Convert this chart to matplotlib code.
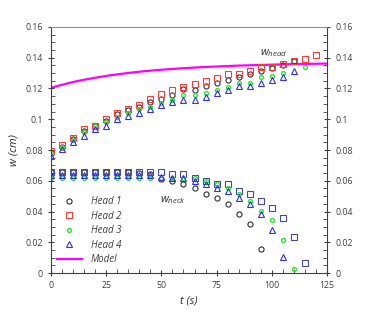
import matplotlib
matplotlib.use("Agg")
import matplotlib.pyplot as plt
from matplotlib.ticker import MultipleLocator, FuncFormatter

plt.rcParams['font.family'] = ['Open Sans', 'DejaVu Sans']
plt.rcParams['mathtext.fontset'] = 'custom'
plt.rcParams['mathtext.it'] = 'Open Sans:italic'
plt.rcParams['mathtext.rm'] = 'Open Sans'

# head width w_head (cm)
t_h1 = [0, 5, 10, 15, 20, 25, 30, 35, 40, 45, 50, 55, 60, 65, 70, 75, 80, 85, 90, 95, 100, 105, 110]
head1 = [0.0779, 0.0818, 0.0870, 0.0922, 0.0954, 0.0986, 0.1032, 0.1058, 0.1079, 0.1112, 0.1134, 0.1155,
         0.1199, 0.1192, 0.1214, 0.1233, 0.1253, 0.1274, 0.1292, 0.1317, 0.1335, 0.1356, 0.1378]
t_h2 = [0, 5, 10, 15, 20, 25, 30, 35, 40, 45, 50, 55, 60, 65, 70, 75, 80, 85, 90, 95, 100, 105, 110, 115, 120]
head2 = [0.0792, 0.0831, 0.0878, 0.0934, 0.0959, 0.0999, 0.1043, 0.1069, 0.1090, 0.1134, 0.1166, 0.1188,
         0.1209, 0.1231, 0.1248, 0.1270, 0.1292, 0.1292, 0.1317, 0.1339, 0.1339, 0.1361, 0.1382, 0.1393, 0.1421]
t_h3 = [0, 5, 10, 15, 20, 25, 30, 35, 40, 45, 50, 55, 60, 65, 70, 75, 80, 85, 90, 95, 100, 105, 115]
head3 = [0.0779, 0.0820, 0.0868, 0.0917, 0.0956, 0.0982, 0.1012, 0.1043, 0.1064, 0.1079, 0.1108, 0.1127,
         0.1155, 0.1155, 0.1168, 0.1192, 0.1209, 0.1238, 0.1238, 0.1274, 0.1279, 0.1300, 0.1339]
t_h4 = [0, 5, 10, 15, 20, 25, 30, 35, 40, 45, 50, 55, 60, 65, 70, 75, 80, 85, 90, 95, 100, 105, 110]
head4 = [0.0759, 0.0805, 0.0852, 0.0894, 0.0934, 0.0959, 0.0999, 0.1021, 0.1040, 0.1064, 0.1090, 0.1112,
         0.1127, 0.1127, 0.1145, 0.1170, 0.1192, 0.1214, 0.1214, 0.1235, 0.1257, 0.1274, 0.1317]

# neck width w_neck (cm)
t_n1 = [0, 5, 10, 15, 20, 25, 30, 35, 40, 45, 50, 55, 60, 65, 70, 75, 80, 85, 90, 95]
neck1 = [0.0655, 0.0655, 0.0655, 0.0655, 0.0655, 0.0655, 0.0655, 0.0654, 0.0652, 0.0645, 0.0610, 0.0598,
         0.0578, 0.0556, 0.0513, 0.0491, 0.0448, 0.0387, 0.0322, 0.0154]
t_n2 = [0, 5, 10, 15, 20, 25, 30, 35, 40, 45, 50, 55, 60, 65, 70, 75, 80, 85, 90, 95, 100, 105, 110, 115]
neck2 = [0.0658, 0.0658, 0.0658, 0.0658, 0.0658, 0.0658, 0.0658, 0.0658, 0.0658, 0.0658, 0.0658, 0.0643,
         0.0643, 0.0621, 0.0600, 0.0578, 0.0578, 0.0534, 0.0513, 0.0470, 0.0426, 0.0361, 0.0234, 0.0063]
t_n3 = [0, 5, 10, 15, 20, 25, 30, 35, 40, 45, 50, 55, 60, 65, 70, 75, 80, 85, 90, 95, 100, 105, 110]
neck3 = [0.0620, 0.0620, 0.0620, 0.0620, 0.0620, 0.0620, 0.0620, 0.0620, 0.0620, 0.0620, 0.0620, 0.0620,
         0.0618, 0.0615, 0.0600, 0.0578, 0.0556, 0.0513, 0.0470, 0.0404, 0.0343, 0.0216, 0.0026]
t_n4 = [0, 5, 10, 15, 20, 25, 30, 35, 40, 45, 50, 55, 60, 65, 70, 75, 80, 85, 90, 95, 100, 105]
neck4 = [0.0640, 0.0640, 0.0640, 0.0640, 0.0640, 0.0640, 0.0640, 0.0640, 0.0640, 0.0638, 0.0625, 0.0620,
         0.0615, 0.0600, 0.0578, 0.0556, 0.0535, 0.0491, 0.0448, 0.0387, 0.0279, 0.0107]

# model curve, read every 5 s
t_model = [0, 5, 10, 15, 20, 25, 30, 35, 40, 45, 50, 55, 60, 65, 70, 75, 80, 85, 90, 95, 100, 105, 110, 115, 120, 125]
model = [0.1205, 0.1224, 0.1242, 0.1257, 0.1270, 0.1282, 0.1292, 0.1301, 0.1309, 0.1316, 0.1322, 0.1327, 0.1332,
         0.1336, 0.1340, 0.1343, 0.1346, 0.1349, 0.1351, 0.1353, 0.1355, 0.1357, 0.1359, 0.1360, 0.1361, 0.1362]

c1, c2, c3, c4, cn2 = '#303030', '#ff3b3b', '#2ee82e', '#3030f0', '#4848a8'

# marker styles: (marker, size, edge width)
st1 = dict(marker='o', ms=3.7, mew=0.8, mfc='none', ls='none')
st2 = dict(marker='s', ms=4.3, mew=0.8, mfc='none', ls='none')
st3 = dict(marker='o', ms=2.8, mew=1.0, mfc='none', ls='none')
st4 = dict(marker='^', ms=4.0, mew=0.8, mfc='none', ls='none')

fig = plt.figure(figsize=(3.74, 3.21), dpi=100)
ax = fig.add_axes([0.1364, 0.1495, 0.738, 0.7664])

ax.plot(t_model, model, color='#ff00ff', lw=1.6, zorder=1)
ax.plot(t_h1, head1, mec=c1, **st1)
ax.plot(t_h2, head2, mec=c2, **st2)
ax.plot(t_h3, head3, mec=c3, **st3)
ax.plot(t_h4, head4, mec=c4, **st4)
ax.plot(t_n1, neck1, mec=c1, **st1)
ax.plot(t_n2, neck2, mec=cn2, **st2)
ax.plot(t_n3, neck3, mec=c3, **st3)
ax.plot(t_n4, neck4, mec=c4, **st4)

h1, = ax.plot([], [], mec=c1, **st1)
h2, = ax.plot([], [], mec=c2, **st2)
h3, = ax.plot([], [], mec=c3, **st3)
h4, = ax.plot([], [], mec=c4, **st4)
hm, = ax.plot([], [], color='#ff00ff', lw=1.6)
leg = ax.legend([h1, h2, h3, h4, hm], ['Head 1', 'Head 2', 'Head 3', 'Head 4', 'Model'],
                loc='upper left', bbox_to_anchor=(0.0, 0.335), frameon=False,
                prop={'style': 'italic', 'size': 7}, labelspacing=0.35,
                handlelength=2.6, handletextpad=0.9, borderaxespad=0.2)
for txt in leg.get_texts():
    txt.set_color('#404040')

ax.text(101, 0.1432, r'$w_{head}$', fontsize=8, color='#303030', ha='center', va='center')
ax.text(55, 0.0473, r'$w_{neck}$', fontsize=8, color='#303030', ha='center', va='center')

ax.set_xlim(0, 125)
ax.set_ylim(0, 0.16)
ax.xaxis.set_major_locator(MultipleLocator(25))
ax.xaxis.set_minor_locator(MultipleLocator(5))
ax.yaxis.set_major_locator(MultipleLocator(0.02))
ax.yaxis.set_minor_locator(MultipleLocator(0.005))
ax.yaxis.set_major_formatter(FuncFormatter(lambda v, p: '%g' % round(v, 3)))

ax.tick_params(which='major', direction='inout', length=5, width=0.8, color='#404040',
               labelsize=6.3, labelcolor='#404040', right=True, labelright=True, top=False)
ax.tick_params(which='minor', direction='in', length=3, width=0.6, color='#404040',
               right=True, top=False)
for s in ax.spines.values():
    s.set_color('#404040')
    s.set_linewidth(0.8)
ax.spines['top'].set_color('#909090')

ax.set_xlabel('t (s)', fontsize=8, style='italic', color='#303030', labelpad=4)
ax.set_ylabel('w (cm)', fontsize=8, style='italic', color='#303030', labelpad=4)

fig.savefig('out.png', dpi=100)
